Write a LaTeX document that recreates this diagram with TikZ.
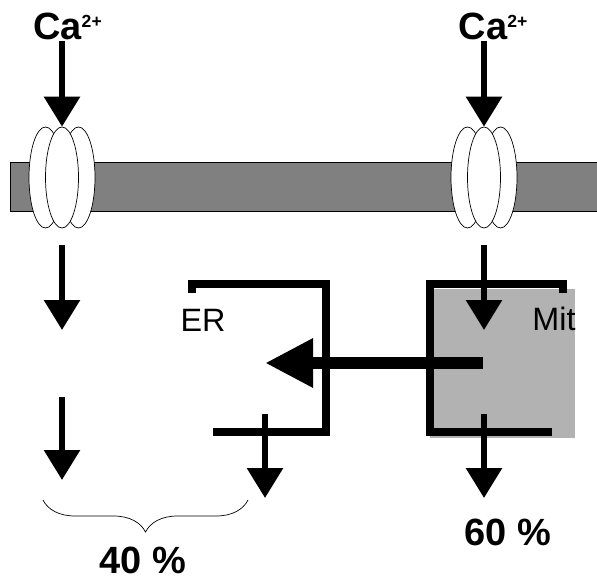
\documentclass[tikz,border=0pt]{standalone}
\usepackage{fontspec}
\setmainfont{Liberation Sans}
\usepackage{xcolor}
\definecolor{membGray}{RGB}{128, 128, 128}
\definecolor{mitGray}{RGB}{178, 178, 178}
\usepackage{tikz}
\usetikzlibrary{positioning,shapes.geometric,arrows.meta,decorations.pathreplacing}

\begin{document}
\begin{tikzpicture}[x=0.25mm, y=-0.25mm,
  ion/.style={font=\fontsize{27}{30}\selectfont\bfseries, inner sep=0pt, anchor=base},
  lbl/.style={font=\fontsize{23}{26}\selectfont, inner sep=0pt},
  pct/.style={font=\fontsize{27}{30}\selectfont\bfseries, inner sep=0pt},
  pore/.style={draw, ellipse, fill=white, line width=0.5pt, inner sep=0pt,
               minimum width=8.25mm, minimum height=25.25mm},
  arr/.style={-{Triangle[length=7.5mm, width=8.75mm]}, line width=1.5mm},
  bigarr/.style={-{Triangle[length=12mm, width=11.5mm]}, line width=3mm},
  wall/.style={line width=2mm, line join=miter}
]
\useasboundingbox (0,0) rectangle (597,581);

% membrane
\draw[fill=membGray, line width=0.6pt] (10,162) rectangle (640,211);

% channels
\node[pore] (chanLa) at (45.5,177.5) {};
\node[pore] (chanLc) at (78.5,177.5) {};
\node[pore] (chanL)  at (62,177.5)   {};
\node[pore] (chanRa) at (467.5,177.5) {};
\node[pore] (chanRc) at (500.5,177.5) {};
\node[pore] (chanR)  at (484,177.5)   {};

\node[ion] (caL) at (67.5,40) {Ca\raisebox{9pt}{\fontsize{12.5}{13}\selectfont 2+}};
\node[ion] (caR) at (493,40)  {Ca\raisebox{9pt}{\fontsize{12.5}{13}\selectfont 2+}};
\draw[arr] (caL.south -| chanL.north) -- (chanL.north);
\draw[arr] (caR.south -| chanR.north) -- (chanR.north);

% mitochondrion and ER
\fill[mitGray] (430,289) rectangle (575,438);
\draw[wall] (192,293) -- (192,284) -- (326,284) -- (326,432) -- (213,432);
\draw[wall] (563,293) -- (563,284) -- (430,284) -- (430,432) -- (552,432);
\node[lbl] (er)  at (203,320) {ER};
\node[lbl] (mit) at (554,319) {Mit};

% fluxes
\coordinate (cytL1) at (62,245);  \coordinate (cytL1e) at (62,330);
\coordinate (cytL2) at (62,397);  \coordinate (cytL2e) at (62,480);
\coordinate (cytR)  at (484,245); \coordinate (mitIn)  at (484,330);
\coordinate (mitC)  at (483,363); \coordinate (erIn)   at (265,363);
\coordinate (erOut) at (265,414); \coordinate (erOute) at (265,498);
\coordinate (mitOut) at (484,414); \coordinate (mitOute) at (484,498);
\draw[arr] (cytL1) -- (cytL1e);
\draw[arr] (cytL2) -- (cytL2e);
\draw[arr] (cytR) -- (mitIn);
\draw[bigarr] (mitC) -- (erIn);
\draw[arr] (erOut) -- (erOute);
\draw[arr] (mitOut) -- (mitOute);

% totals
\coordinate (brA) at (248,500);
\coordinate (brB) at (43,500);
\draw[decorate, decoration={brace, amplitude=8mm}, line width=0.5pt] (brA) -- (brB);
\node[pct] (p40) at (143,560) {40 \%};
\node[pct] (p60) at (508,532) {60 \%};
\end{tikzpicture}
\end{document}
